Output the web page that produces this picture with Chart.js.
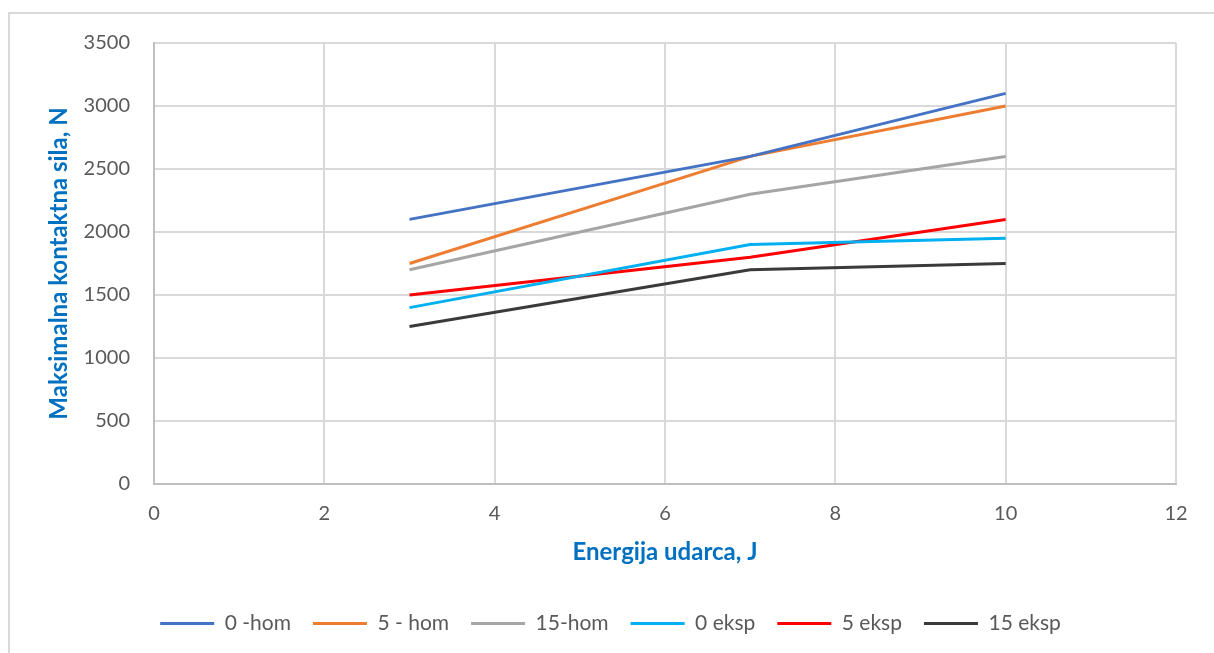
<!DOCTYPE html>
<html>
<head>
<meta charset="utf-8">
<script src="https://cdn.jsdelivr.net/npm/chart.js@4.4.1/dist/chart.umd.min.js"></script>
<style>
    html, body { margin: 0; padding: 0; background: #fff; overflow: hidden; }
    #frame { position: absolute; left: 8px; top: 12px; width: 1300px; height: 800px; border: 2px solid #d9d9d9; }
    #wrap { position: absolute; left: 0; top: 0; width: 1214px; height: 653px; }
</style>
</head>
<body>
<div id="frame"></div>
<div id="wrap"><canvas id="chart" width="1214" height="653"></canvas></div>
<script>
// Energija udarca (J)
const energies = [3, 7, 10];

const seriesNames = ['0 -hom', '5 - hom', '15-hom', '0 eksp', '5 eksp', '15 eksp'];
const hom0 = [2100, 2600, 3100];
const hom5 = [1750, 2600, 3000];
const hom15 = [1700, 2300, 2600];
const eksp0 = [1400, 1900, 1950];
const eksp5 = [1500, 1800, 2100];
const eksp15 = [1250, 1700, 1750];
const seriesColors = ['#4472C4', '#ED7D31', '#A5A5A5', '#00B0F0', '#FF0000', '#3A3A3A'];

const xTicks = [0, 2, 4, 6, 8, 10, 12];
const yTicks = [0, 500, 1000, 1500, 2000, 2500, 3000, 3500];

const fontFamily = 'Lato, "Open Sans", "Liberation Sans", sans-serif';

function toPoints(values) {
    return energies.map((x, i) => ({ x: x, y: values[i] }));
}

const allSeries = [hom0, hom5, hom15, eksp0, eksp5, eksp15];
const datasets = allSeries.map((vals, i) => ({
    label: seriesNames[i],
    data: toPoints(vals),
    borderColor: seriesColors[i],
    backgroundColor: seriesColors[i],
    borderWidth: 3,
    pointRadius: 0,
    pointStyle: 'line',
    tension: 0,
    fill: false
}));

new Chart(document.getElementById('chart'), {
    type: 'line',
    data: { datasets: datasets },
    options: {
        responsive: false,
        animation: false,
        layout: { padding: { left: 45, top: 43, right: 38, bottom: 9 } },
        plugins: {
            tooltip: { enabled: false },
            legend: {
                position: 'bottom',
                labels: {
                    usePointStyle: true,
                    pointStyleWidth: 54,
                    boxHeight: 3,
                    padding: 22,
                    color: '#595959',
                    font: { family: fontFamily, size: 21 }
                }
            }
        },
        scales: {
            x: {
                type: 'linear',
                min: 0,
                max: 12,
                afterBuildTicks: (s) => { s.ticks = xTicks.map(v => ({ value: v })); },
                afterFit: (s) => { s.height = 107; },
                grid: { color: '#d9d9d9', lineWidth: 2, drawTicks: false },
                border: { color: '#bfbfbf', width: 2 },
                ticks: {
                    padding: 18,
                    color: '#595959',
                    font: { family: fontFamily, size: 20 },
                    callback: (v) => String(v)
                },
                title: {
                    display: true,
                    text: 'Energija udarca, J',
                    color: '#0070C0',
                    padding: { top: 4, bottom: 24 },
                    font: { family: fontFamily, size: 24, weight: 'bold' }
                }
            },
            y: {
                min: 0,
                max: 3500,
                afterBuildTicks: (s) => { s.ticks = yTicks.map(v => ({ value: v })); },
                afterFit: (s) => { s.width = 109; },
                grid: { color: '#d9d9d9', lineWidth: 2, drawTicks: false },
                border: { color: '#bfbfbf', width: 2 },
                ticks: {
                    padding: 24,
                    color: '#595959',
                    font: { family: fontFamily, size: 20 },
                    callback: (v) => String(v)
                },
                title: {
                    display: true,
                    text: 'Maksimalna kontaktna sila, N',
                    color: '#0070C0',
                    padding: { top: 0, bottom: 4 },
                    font: { family: fontFamily, size: 24, weight: 'bold' }
                }
            }
        }
    }
});
</script>
</body>
</html>
